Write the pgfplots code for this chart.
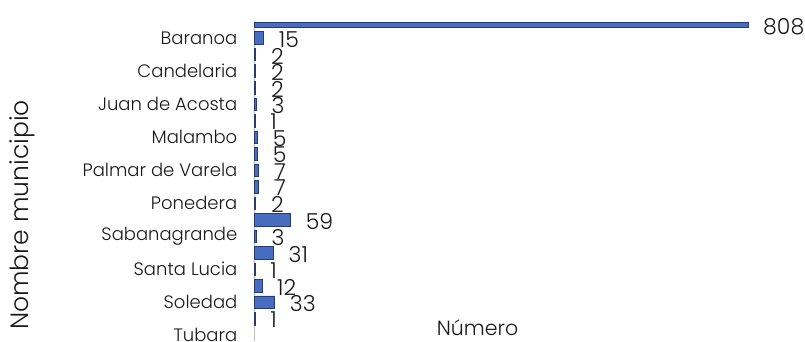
\documentclass[border=0pt]{standalone}
\usepackage{pgfplots}
\pgfplotsset{compat=1.18}
\usepackage{fontspec}
\setmainfont{Poppins}[UprightFont=* Light]
\definecolor{barfill}{RGB}{72,108,190}
\definecolor{bardraw}{RGB}{38,58,118}
\definecolor{axisgray}{RGB}{191,191,191}
\definecolor{txt}{RGB}{25,25,25}
\begin{document}
\begin{tikzpicture}[x=1bp,y=1bp]
\useasboundingbox (0,0) rectangle (805,341);
\begin{axis}[
  at={(254.5bp,318.3bp)}, anchor=north west,
  scale only axis, width=550.2bp, height=318.3bp,
  xbar, xmin=0, xmax=901, ymin=0.07, ymax=19.36, y dir=reverse,
  enlargelimits=false, clip=false,
  /pgf/number format/assume math mode=true,
  axis x line=none, axis y line=left,
  y axis line style={-, draw=axisgray, line width=0.8bp},
  xtick=\empty,
  ytick={1,3,5,7,9,11,13,15,17,19},
  yticklabels={Baranoa,Candelaria,Juan de Acosta,Malambo,Palmar de Varela,Ponedera,Sabanagrande,Santa Lucia,Soledad,Tubara},
  major tick length=0pt,
  yticklabel style={font=\fontsize{18bp}{19bp}\selectfont, text=txt, inner sep=0pt, xshift=-17bp},
  bar width=12.5bp,
  point meta=x,
  nodes near coords,
  nodes near coords align=horizontal,
  every node near coord/.append style={font=\fontsize{22bp}{22bp}\selectfont, text=txt, anchor=west, inner sep=0pt, xshift=15bp, yshift=-1.5bp},
]
\addplot[fill=barfill, draw=bardraw, line width=0.6bp, bar shift=0pt] coordinates {
(15,1) (2,2) (2,3) (2,4) (3,5) (1,6) (5,7) (5,8) (7,9) (7,10) (2,11) (59,12) (3,13) (31,14) (1,15) (12,16) (33,17) (1,18)
};
\addplot[fill=barfill, draw=bardraw, line width=0.6bp, bar width=4.8bp, bar shift=-3.6bp] coordinates {(808,0)};
\end{axis}
\node[rotate=90, font=\fontsize{25bp}{25bp}\selectfont, text=txt] at (22,126) {Nombre municipio};
\node[anchor=base, font=\fontsize{20.5bp}{20.5bp}\selectfont, text=txt] at (477.5,6) {Número};
\end{tikzpicture}
\end{document}
